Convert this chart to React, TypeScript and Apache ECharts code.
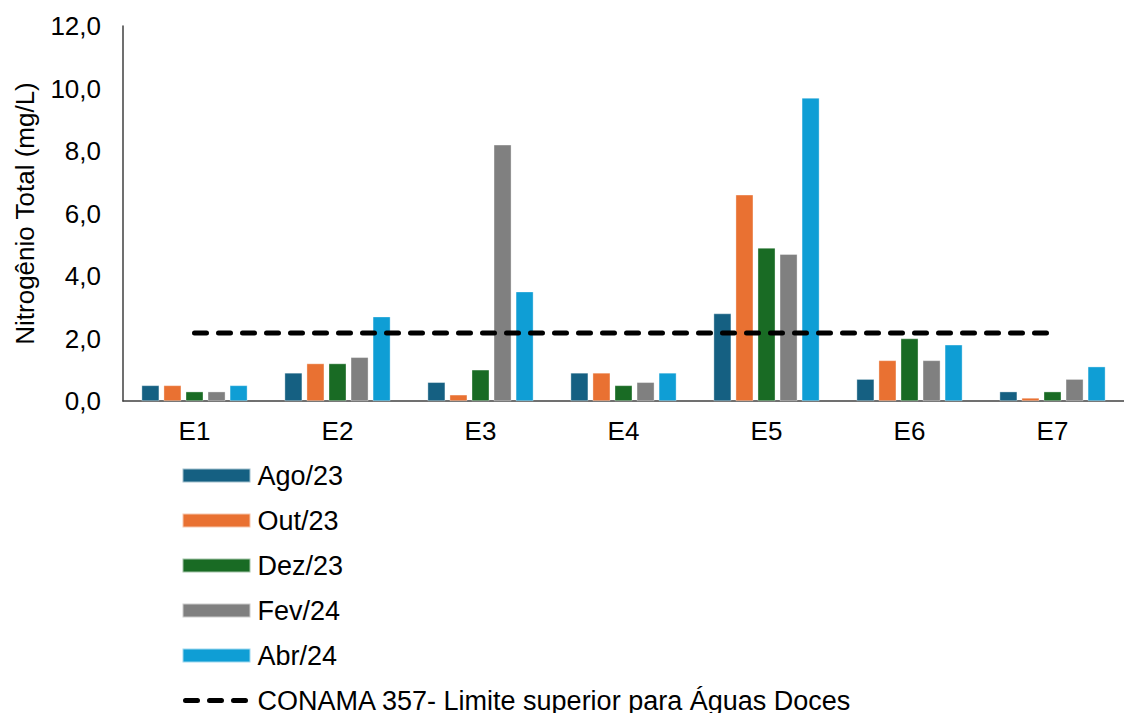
import React, { useEffect, useRef } from "react";
import * as echarts from "echarts";

const categories = ["E1", "E2", "E3", "E4", "E5", "E6", "E7"];
const ago23 = [0.5, 0.9, 0.6, 0.9, 2.8, 0.7, 0.3];
const out23 = [0.5, 1.2, 0.2, 0.9, 6.6, 1.3, 0.1];
const dez23 = [0.3, 1.2, 1.0, 0.5, 4.9, 2.0, 0.3];
const fev24 = [0.3, 1.4, 8.2, 0.6, 4.7, 1.3, 0.7];
const abr24 = [0.5, 2.7, 3.5, 0.9, 9.7, 1.8, 1.1];
const conama = [2.18, 2.18, 2.18, 2.18, 2.18, 2.18, 2.18];
const barSeries = [
  { name: "Ago/23", data: ago23, color: "#156082" },
  { name: "Out/23", data: out23, color: "#E97132" },
  { name: "Dez/23", data: dez23, color: "#196B24" },
  { name: "Fev/24", data: fev24, color: "#808080" },
  { name: "Abr/24", data: abr24, color: "#0F9ED5" },
];
const lineName = "CONAMA 357- Limite superior para Águas Doces";

const FONT = "'Liberation Sans', Arial, sans-serif";

export default function App() {
  const ref = useRef<HTMLDivElement>(null);
  useEffect(() => {
    if (!ref.current) return;
    const chart = echarts.init(ref.current, null, { renderer: "svg" });
    chart.setOption({
      animation: false,
      textStyle: { fontFamily: FONT },
      grid: { left: 123, top: 26, width: 1011, height: 375, containLabel: false },
      legend: {
        orient: "vertical",
        left: 180,
        top: 462,
        height: 400,
        padding: 0,
        itemWidth: 68,
        itemHeight: 14,
        itemGap: 18,
        textStyle: { fontSize: 27, color: "#000", fontFamily: FONT, padding: [0, 0, 0, 2] },
        data: [
          ...barSeries.map((s) => ({ name: s.name, icon: "rect" })),
          {
            name: lineName,
            itemStyle: { opacity: 0 },
            lineStyle: { color: "#000", width: 5, type: [12, 12], cap: "round", dashOffset: -3 },
          },
        ],
      },
      xAxis: {
        type: "category",
        data: categories,
        axisLine: { lineStyle: { color: "#404040", width: 1.5 } },
        axisTick: { show: false },
        axisLabel: { fontSize: 26, color: "#000", margin: 17, fontFamily: FONT },
      },
      yAxis: {
        type: "value",
        min: 0,
        max: 12,
        interval: 2,
        name: "Nitrogênio Total (mg/L)",
        nameLocation: "middle",
        nameGap: 85,
        nameTextStyle: { fontSize: 26, color: "#000", fontFamily: FONT },
        axisLine: { show: true, lineStyle: { color: "#404040", width: 1.5 } },
        axisTick: { show: false },
        splitLine: { show: false },
        axisLabel: {
          fontSize: 26,
          color: "#000",
          margin: 22,
          fontFamily: FONT,
          formatter: (v: number) => v.toFixed(1).replace(".", ","),
        },
      },
      series: [
        ...barSeries.map((s) => ({
          name: s.name,
          type: "bar",
          data: s.data,
          barGap: "25%",
          barCategoryGap: "26%",
          itemStyle: { color: s.color, borderColor: "rgba(255,255,255,0.6)", borderWidth: 0.6 },
        })),
        {
          name: lineName,
          type: "line",
          data: conama,
          symbol: "none",
          color: "#000",
          lineStyle: { color: "#000", width: 5, type: [12, 12], cap: "round" },
          z: 5,
        },
      ],
    });
    return () => chart.dispose();
  }, []);
  return <div ref={ref} style={{ width: 1124, height: 713, position: "absolute", left: 0, top: 0 }} />;
}
